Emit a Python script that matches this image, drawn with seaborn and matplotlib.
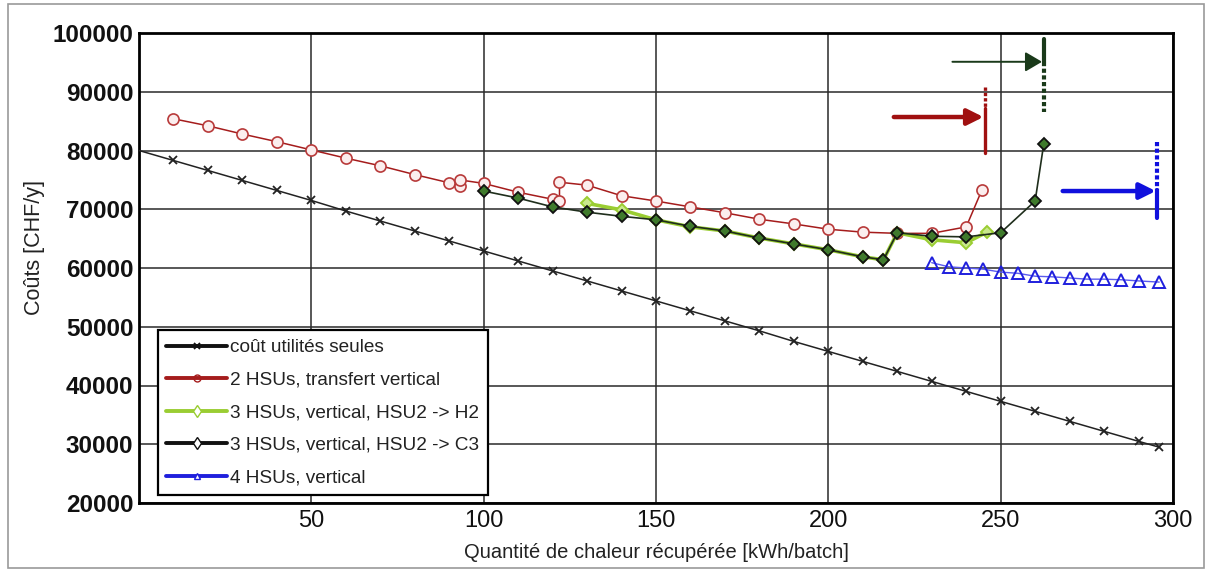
import matplotlib
matplotlib.use("Agg")
import matplotlib.pyplot as plt
from matplotlib import font_manager
from matplotlib.lines import Line2D
from matplotlib.patches import Rectangle
import seaborn as sns

# ---------------- data ----------------
x_util = [0, 10, 20, 30, 40, 50, 60, 70, 80, 90, 100, 110, 120, 130, 140, 150,
          160, 170, 180, 190, 200, 210, 220, 230, 240, 250, 260, 270, 280, 290, 296]
y_util = [80000, 78300, 76600, 74900, 73200, 71500, 69700, 68000, 66300, 64600,
          62900, 61200, 59500, 57800, 56100, 54400, 52700, 51000, 49300, 47500,
          45800, 44100, 42400, 40700, 39000, 37300, 35600, 33900, 32200, 30500, 29500]

x_hsu2 = [10, 20, 30, 40, 50, 60, 70, 80, 90, 93, 93, 100, 110, 120, 122, 122, 130,
          140, 150, 160, 170, 180, 190, 200, 210, 220, 230, 240, 244.5]
y_hsu2 = [85400, 84200, 82800, 81500, 80100, 78700, 77400, 75900, 74500, 74000,
          75000, 74400, 72900, 71700, 71400, 74600, 74100, 72300, 71400, 70400,
          69400, 68300, 67500, 66600, 66100, 65900, 65900, 67000, 73200]

x_hsu3_h2 = [130, 140, 150, 160, 170, 180, 190, 200, 210, 216, 220, 230, 240, 246]
y_hsu3_h2 = [71000, 69900, 68200, 67000, 66300, 65100, 64100, 63100, 61900, 61400,
             66000, 64800, 64300, 66100]

x_hsu3_c3 = [100, 110, 120, 130, 140, 150, 160, 170, 180, 190, 200, 210, 216, 220,
             230, 240, 250, 260, 262.5]
y_hsu3_c3 = [73100, 71900, 70400, 69500, 68800, 68200, 67100, 66300, 65100, 64100,
             63100, 61900, 61400, 66000, 65400, 65300, 66000, 71400, 81100]

x_hsu4 = [230, 235, 240, 245, 250, 255, 260, 265, 270, 275, 280, 285, 290, 296]
y_hsu4 = [60900, 60200, 60000, 59800, 59300, 59100, 58600, 58500, 58300, 58100,
          58100, 58000, 57800, 57600]

labels = ["coût utilités seules", "2 HSUs, transfert vertical",
          "3 HSUs, vertical, HSU2 -> H2", "3 HSUs, vertical, HSU2 -> C3",
          "4 HSUs, vertical"]

x_ticks = [50, 100, 150, 200, 250, 300]
y_ticks = [20000, 30000, 40000, 50000, 60000, 70000, 80000, 90000, 100000]

# limit arrows: (x_start, x_end, y, bar_top, bar_split, bar_bottom)
arrow_c3 = (236, 262, 95100, 99000, 95000, 86500)
arrow_h2 = (219, 245, 85700, 90800, 87300, 79600)
arrow_4 = (268, 295, 73100, 81400, 73300, 68500)

# ---------------- style ----------------
sns.set_theme(style="white")
names = {f.name for f in font_manager.fontManager.ttflist}
base = "Liberation Sans" if "Liberation Sans" in names else "DejaVu Sans"
plt.rcParams["font.family"] = [base, "DejaVu Sans"]

fig = plt.figure(figsize=(12.1, 5.7), dpi=100)
ax = fig.add_axes([139 / 1210, 1 - 503 / 570, 1034 / 1210, 470 / 570])

c_red = "#a51c1c"
c_lg = "#9acd32"
c_dg = "#1f2e1c"
c_blue = "#1f1fdd"

sns.lineplot(x=x_util, y=y_util, ax=ax, sort=False, estimator=None,
             color="#222222", lw=1.1, marker="x", ms=6, mew=1.3, mec="#222222",
             markevery=list(range(1, len(x_util))), zorder=3)
sns.lineplot(x=x_hsu2, y=y_hsu2, ax=ax, sort=False, estimator=None,
             color=c_red, lw=1.1, marker="o", ms=8, mfc="#fbeeee", mec="#b83a3a",
             mew=1.2, zorder=4)
sns.lineplot(x=x_hsu3_h2, y=y_hsu3_h2, ax=ax, sort=False, estimator=None,
             color=c_lg, lw=2.6, marker="D", ms=6.5, mfc="#c9e88c", mec=c_lg,
             mew=1.4, zorder=5)
sns.lineplot(x=x_hsu3_c3, y=y_hsu3_c3, ax=ax, sort=False, estimator=None,
             color=c_dg, lw=1.2, marker="D", ms=6, mfc="#3f7a2c", mec="#111111",
             mew=1.3, zorder=6)
sns.lineplot(x=x_hsu4, y=y_hsu4, ax=ax, sort=False, estimator=None,
             color="#5a5aee", lw=1.0, marker="^", ms=8.5, mfc="none", mec=c_blue,
             mew=1.4, zorder=5)


def limit(arr, color, lw_line, bar_lw, solid_top, hl, hw):
    xs, xe, y, top, split, bottom = arr
    ax.annotate("", xy=(xe, y), xytext=(xs, y),
                arrowprops=dict(arrowstyle=f"-|>,head_length={hl},head_width={hw}",
                                color=color, lw=lw_line, shrinkA=0, shrinkB=0),
                zorder=7)
    xb = xe + 0.5
    if solid_top:
        ax.plot([xb, xb], [top, split], color=color, lw=bar_lw, zorder=7)
        ax.plot([xb, xb], [split, bottom], color=color, lw=bar_lw,
                ls=(0, (1, 0.6)), zorder=7)
    else:
        ax.plot([xb, xb], [top, split], color=color, lw=bar_lw,
                ls=(0, (1, 0.6)), zorder=7)
        ax.plot([xb, xb], [split, bottom], color=color, lw=bar_lw, zorder=7)


limit(arrow_c3, "#1a3a1a", 1.4, 3.0, True, 0.85, 0.5)
limit(arrow_h2, "#a01010", 3.2, 2.4, False, 0.8, 0.4)
limit(arrow_4, "#1010dd", 3.2, 3.0, False, 0.8, 0.4)

ax.set_xlim(0, 300)
ax.set_ylim(20000, 100000)
ax.set_xticks(x_ticks)
ax.set_yticks(y_ticks)
ax.grid(True, color="#2a2a2a", lw=1.1)
ax.set_axisbelow(True)
for s in ax.spines.values():
    s.set_color("black")
    s.set_linewidth(2)
ax.tick_params(axis="y", length=0, pad=4)
ax.tick_params(axis="x", length=0, pad=5)

for t in ax.get_yticklabels():
    t.set_fontsize(17.5)
    t.set_fontweight("bold")
    t.set_color("#111111")
for t in ax.get_xticklabels():
    t.set_fontsize(17)
    t.set_color("#111111")
ax.set_xlabel("Quantité de chaleur récupérée [kWh/batch]", fontsize=14.5,
              color="#222222", labelpad=8)
ax.set_ylabel("Coûts [CHF/y]", fontsize=15.5, color="#222222")
ax.yaxis.set_label_coords(-0.091, 0.543)

handles = [
    Line2D([], [], color="#111111", lw=2.8, marker="x", ms=5, mew=1.3),
    Line2D([], [], color=c_red, lw=2.8, marker="o", ms=5, mfc="none", mec=c_red),
    Line2D([], [], color=c_lg, lw=2.8, marker="d", ms=6, mfc="white", mec=c_lg),
    Line2D([], [], color="#111111", lw=2.8, marker="d", ms=6, mfc="white", mec="#111111"),
    Line2D([], [], color=c_blue, lw=2.8, marker="^", ms=5, mfc="white", mec=c_blue),
]
leg = ax.legend(handles, labels, loc="lower left", bbox_to_anchor=(0.018, 0.017),
                borderaxespad=0, fontsize=13.7, frameon=True, fancybox=False,
                framealpha=1, edgecolor="black", handlelength=3.2,
                handletextpad=0.15, labelspacing=0.8, borderpad=0.45)
leg.get_frame().set_linewidth(1.6)
for t in leg.get_texts():
    t.set_color("#222222")

fig.patches.append(Rectangle((8 / 1210, 2 / 570), 1196 / 1210, 564 / 570,
                             transform=fig.transFigure, fill=False,
                             edgecolor="#9a9a9a", lw=1.2))

fig.savefig("out.png", dpi=100)
